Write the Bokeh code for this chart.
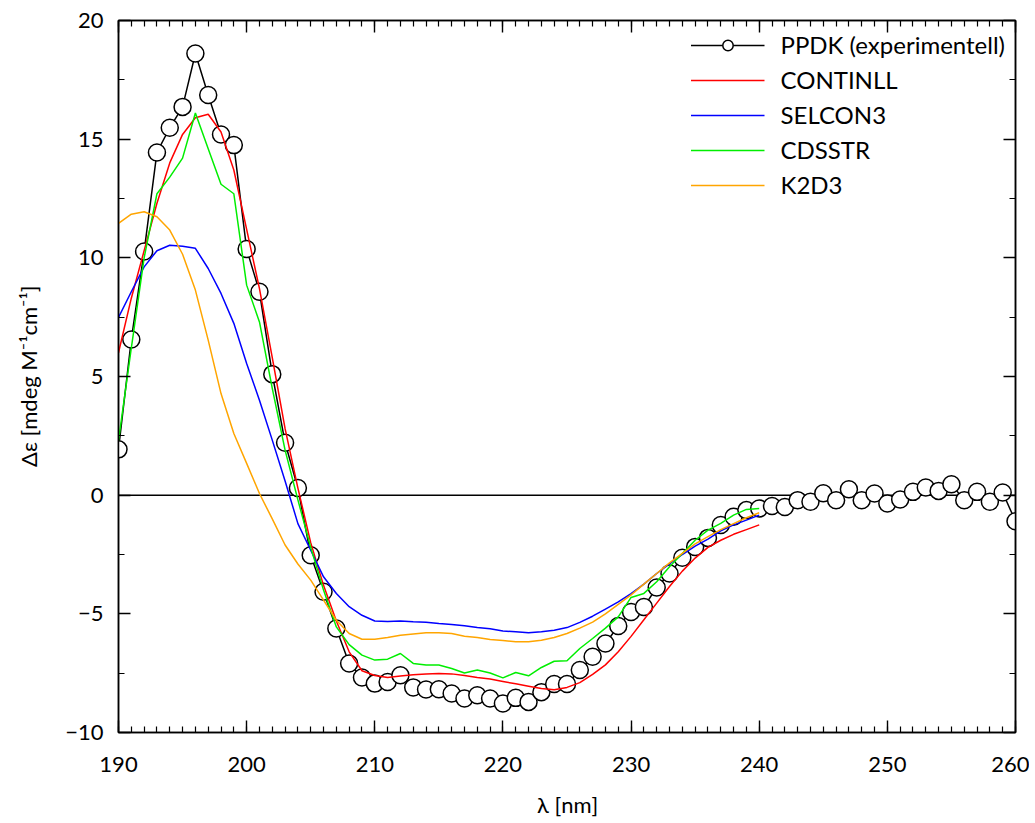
from bokeh.plotting import figure
from bokeh.models import (LinearAxis, Span, Legend, LegendItem, Range1d,
                          SingleIntervalTicker, CustomJSTickFormatter)
from bokeh.embed import file_html
from bokeh.resources import INLINE

# ---------------- data ----------------
exp_nm = list(range(190, 261))
exp_val = [1.93, 6.56, 10.27, 14.44, 15.48, 16.36, 18.61, 16.86, 15.2, 14.75,
           10.37, 8.57, 5.10, 2.21, 0.30, -2.53, -4.07, -5.62, -7.09, -7.68,
           -7.94, -7.87, -7.59, -8.10, -8.19, -8.18, -8.36, -8.57, -8.43, -8.57,
           -8.78, -8.54, -8.71, -8.30, -7.96, -7.96, -7.37, -6.81, -6.25, -5.51,
           -4.92, -4.71, -3.89, -3.30, -2.64, -2.18, -1.80, -1.26, -0.91, -0.63,
           -0.56, -0.46, -0.50, -0.21, -0.28, 0.08, -0.21, 0.25, -0.21, 0.07,
           -0.35, -0.18, 0.14, 0.32, 0.18, 0.46, -0.21, 0.14, -0.28, 0.11, -1.10]

fit_nm = list(range(190, 241))
continll = [6.0, 8.3, 10.3, 12.3, 14.0, 15.2, 15.9, 16.05, 15.3, 13.7,
            11.2, 8.7, 5.8, 2.8, 0.3, -2.0, -3.8, -5.3, -6.6, -7.4,
            -7.6, -7.68, -7.62, -7.57, -7.53, -7.51, -7.53, -7.6, -7.68, -7.75,
            -7.85, -7.95, -8.05, -8.15, -8.2, -8.1, -7.9, -7.55, -7.15, -6.6,
            -5.95, -5.25, -4.55, -3.85, -3.2, -2.65, -2.2, -1.9, -1.65, -1.45, -1.25]
selcon3 = [7.49, 8.57, 9.62, 10.3, 10.53, 10.49, 10.4, 9.55, 8.5, 7.24,
           5.55, 4.0, 2.32, 0.6, -1.2, -2.32, -3.44, -4.14, -4.7, -5.06,
           -5.3, -5.32, -5.3, -5.33, -5.35, -5.41, -5.45, -5.5, -5.58, -5.63,
           -5.72, -5.76, -5.8, -5.75, -5.69, -5.58, -5.36, -5.1, -4.8, -4.5,
           -4.15, -3.75, -3.3, -2.9, -2.5, -2.15, -1.85, -1.5, -1.25, -1.05, -0.84]
cdsstr = [2.3, 6.2, 10.0, 12.7, 13.4, 14.2, 16.1, 14.6, 13.1, 12.7,
          8.85, 7.3, 4.5, 1.9, -0.2, -2.2, -4.0, -5.55, -6.3, -6.74,
          -6.95, -6.91, -6.67, -7.09, -7.16, -7.16, -7.3, -7.49, -7.37, -7.49,
          -7.7, -7.47, -7.61, -7.26, -7.0, -6.98, -6.46, -6.04, -5.6, -5.13,
          -4.31, -4.14, -3.65, -3.02, -2.46, -1.9, -1.47, -1.19, -0.84, -0.6, -0.56]
k2d3 = [11.45, 11.84, 11.94, 11.73, 11.17, 10.15, 8.64, 6.53, 4.28, 2.6,
        1.34, 0.07, -1.0, -2.1, -2.9, -3.58, -4.42, -5.27, -5.83, -6.07,
        -6.07, -6.0, -5.9, -5.85, -5.8, -5.8, -5.83, -5.94, -6.0, -6.08,
        -6.12, -6.18, -6.18, -6.11, -6.0, -5.83, -5.6, -5.35, -5.0, -4.6,
        -4.2, -3.75, -3.3, -2.85, -2.45, -2.05, -1.75, -1.45, -1.2, -0.95, -0.74]

labels = ["PPDK (experimentell)", "CONTINLL", "SELCON3", "CDSSTR", "K2D3"]
colors = ["#000000", "#ff0000", "#0000ff", "#00ee00", "#ffa500"]
x_ticks_major = 10
y_ticks_major = 5

FONT = "Lato"

# ---------------- figure ----------------
p = figure(width=1029, height=823, output_backend="svg", toolbar_location=None,
           x_range=Range1d(190, 260), y_range=Range1d(-10, 20),
           min_border_left=118, min_border_right=14, min_border_top=20,
           min_border_bottom=91)
p.grid.visible = False
p.outline_line_color = "black"
p.outline_line_width = 1.5
p.background_fill_color = "white"

zero = Span(location=0, dimension="width", line_color="black", line_width=1.5,
            level="underlay")
p.add_layout(zero)

l0 = p.line(exp_nm, exp_val, line_color="black", line_width=1.5)
s0 = p.scatter(exp_nm, exp_val, marker="circle", size=17, fill_color="white",
               line_color="black", line_width=1.5)
r1 = p.line(fit_nm, continll, line_color=colors[1], line_width=1.5)
r2 = p.line(fit_nm, selcon3, line_color=colors[2], line_width=1.5)
r3 = p.line(fit_nm, cdsstr, line_color=colors[3], line_width=1.5)
r4 = p.line(fit_nm, k2d3, line_color=colors[4], line_width=1.5)


def style(ax):
    ax.axis_line_color = "black"
    ax.axis_line_width = 1.5
    ax.major_tick_in = 12
    ax.major_tick_out = 0
    ax.minor_tick_in = 6
    ax.minor_tick_out = 0
    ax.major_tick_line_width = 1.4
    ax.minor_tick_line_width = 1.2
    ax.major_tick_line_color = "black"
    ax.minor_tick_line_color = "black"
    ax.major_label_text_font = FONT
    ax.major_label_text_font_size = "22px"
    ax.major_label_text_color = "black"
    ax.axis_label_text_font = FONT
    ax.axis_label_text_font_size = "22px"
    ax.axis_label_text_font_style = "normal"
    ax.axis_label_text_color = "black"


p.xaxis.ticker = SingleIntervalTicker(interval=x_ticks_major, num_minor_ticks=10)
p.yaxis.ticker = SingleIntervalTicker(interval=y_ticks_major, num_minor_ticks=2)
style(p.xaxis[0])
style(p.yaxis[0])
p.xaxis.axis_label = "λ [nm]"
p.yaxis.axis_label = "Δε [mdeg M⁻¹cm⁻¹]"
p.xaxis.major_label_standoff = 24
p.yaxis.major_label_standoff = 15
p.xaxis.axis_label_standoff = 16
p.yaxis.axis_label_standoff = 20

blank = CustomJSTickFormatter(code="return ''")
ax_top = LinearAxis(ticker=SingleIntervalTicker(interval=x_ticks_major, num_minor_ticks=10),
                    formatter=blank)
ax_right = LinearAxis(ticker=SingleIntervalTicker(interval=y_ticks_major, num_minor_ticks=2),
                      formatter=blank)
for ax in (ax_top, ax_right):
    style(ax)
    ax.major_label_standoff = 0
    ax.major_label_text_font_size = "1px"
p.add_layout(ax_top, "above")
p.add_layout(ax_right, "right")

legend = Legend(items=[
    LegendItem(label=labels[0], renderers=[l0, s0]),
    LegendItem(label=labels[1], renderers=[r1]),
    LegendItem(label=labels[2], renderers=[r2]),
    LegendItem(label=labels[3], renderers=[r3]),
    LegendItem(label=labels[4], renderers=[r4]),
], location="top_right")
legend.border_line_color = None
legend.background_fill_alpha = 0
legend.label_text_font = FONT
legend.label_text_font_size = "24px"
legend.label_text_color = "black"
legend.glyph_width = 74
legend.glyph_height = 26
legend.label_height = 26
legend.spacing = 6
legend.padding = 9
legend.margin = 10
legend.label_standoff = 16
p.add_layout(legend)

open("out.html", "w").write(file_html(p, INLINE))
